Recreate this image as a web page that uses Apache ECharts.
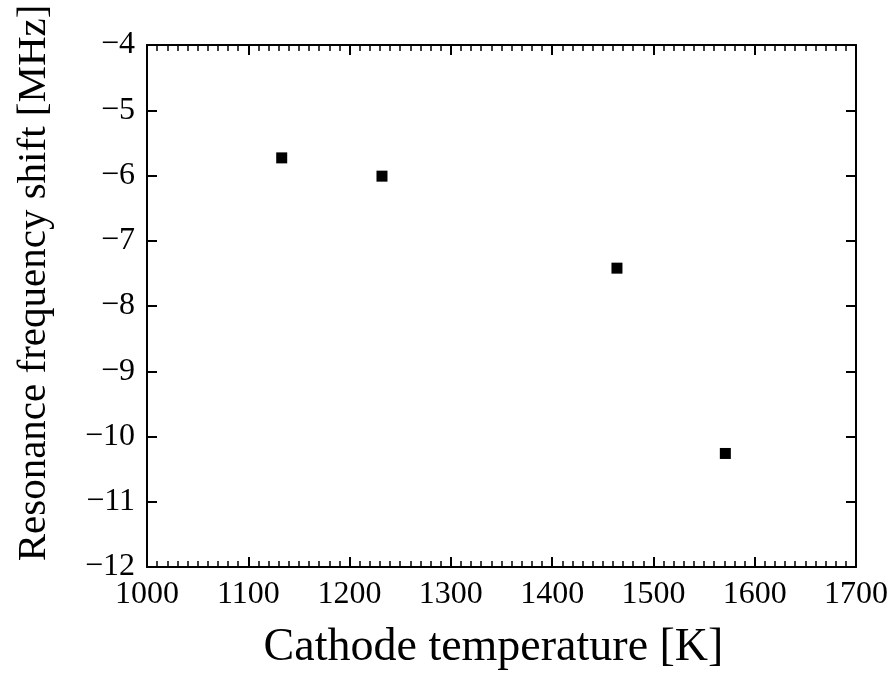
<!DOCTYPE html>
<html>
<head>
<meta charset="utf-8">
<script src="https://cdn.jsdelivr.net/npm/echarts@6/dist/echarts.min.js"></script>
<style>
html, body { margin: 0; padding: 0; background: #fff; }
#chart { width: 895px; height: 674px; }
</style>
</head>
<body>
<div id="chart"></div>
<script>
// 阴极温度 [K] 与 共振频率偏移 [MHz]
var temperature = [1133, 1232, 1464, 1571];
var freqShift = [-5.73, -6.01, -7.42, -10.26];

var xTitle = 'Cathode temperature [K]';
var yTitle = 'Resonance frequency shift [MHz]';

var points = temperature.map(function(t, i) {
    return [t, freqShift[i]];
});

var font = '"Liberation Serif", "DejaVu Serif", serif';

function minus(v) {
    return String(v).replace('-', '\u2212');
}

var myChart = echarts.init(document.getElementById('chart'));

var option = {
    animation: false,
    grid: {
        left: 147,
        right: 39,
        top: 45,
        bottom: 107,
        outerBoundsMode: 'none'
    },
    xAxis: [
        {
            type: 'value',
            min: 1000,
            max: 1700,
            interval: 100,
            position: 'bottom',
            name: xTitle,
            nameLocation: 'middle',
            nameGap: 58,
            nameTextStyle: {
                fontFamily: font,
                fontSize: 46,
                color: '#000',
                padding: [0, 16, 0, 0]
            },
            axisLine: { lineStyle: { color: '#000', width: 2 } },
            axisTick: { inside: true, length: 10, lineStyle: { color: '#000', width: 2 } },
            minorTick: { show: true, splitNumber: 10, length: 6, lineStyle: { color: '#000', width: 1.5 } },
            axisLabel: {
                fontFamily: font,
                fontSize: 32,
                color: '#000',
                margin: 12,
                formatter: function(v) { return String(v); }
            },
            splitLine: { show: false }
        },
        {
            type: 'value',
            min: 1000,
            max: 1700,
            interval: 100,
            position: 'top',
            axisLine: { lineStyle: { color: '#000', width: 2 } },
            axisTick: { inside: true, length: 10, lineStyle: { color: '#000', width: 2 } },
            minorTick: { show: true, splitNumber: 10, length: 6, lineStyle: { color: '#000', width: 1.5 } },
            axisLabel: { show: false },
            splitLine: { show: false }
        }
    ],
    yAxis: [
        {
            type: 'value',
            min: -12,
            max: -4,
            interval: 1,
            position: 'left',
            name: yTitle,
            nameLocation: 'middle',
            nameGap: 92,
            nameTextStyle: {
                fontFamily: font,
                fontSize: 41,
                color: '#000',
                padding: [0, 0, 0, 46]
            },
            axisLine: { lineStyle: { color: '#000', width: 2 } },
            axisTick: { inside: true, length: 10, lineStyle: { color: '#000', width: 2 } },
            axisLabel: {
                fontFamily: font,
                fontSize: 32,
                color: '#000',
                margin: 12,
                formatter: minus
            },
            splitLine: { show: false }
        },
        {
            type: 'value',
            min: -12,
            max: -4,
            interval: 1,
            position: 'right',
            axisLine: { lineStyle: { color: '#000', width: 2 } },
            axisTick: { inside: true, length: 10, lineStyle: { color: '#000', width: 2 } },
            axisLabel: { show: false },
            splitLine: { show: false }
        }
    ],
    series: [
        {
            type: 'scatter',
            data: points,
            symbol: 'rect',
            symbolSize: 11,
            itemStyle: { color: '#000', opacity: 1 }
        }
    ]
};

myChart.setOption(option);
</script>
</body>
</html>
